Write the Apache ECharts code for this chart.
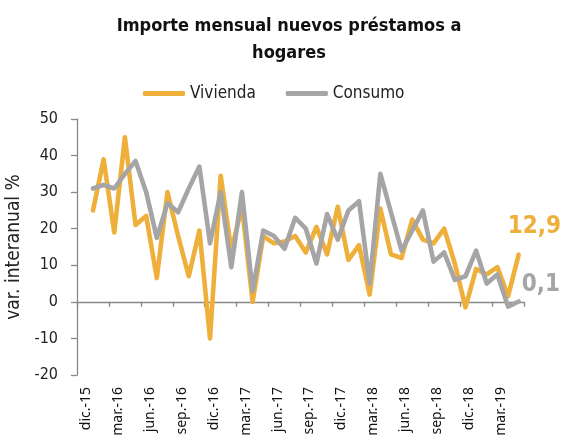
<!DOCTYPE html>
<html>
<head>
<meta charset="utf-8">
<script src="https://cdn.jsdelivr.net/npm/echarts@6/dist/echarts.min.js"></script>
<style>
  html, body { margin: 0; padding: 0; background: #fff; }
  #chart { width: 563px; height: 448px; }
</style>
</head>
<body>
<div id="chart"></div>
<script>
// meses dic-15 .. abr-19
const months = [
  'dic.-15', 'ene.-16', 'feb.-16', 'mar.-16', 'abr.-16', 'may.-16', 'jun.-16', 'jul.-16', 'ago.-16', 'sep.-16', 'oct.-16', 'nov.-16',
  'dic.-16', 'ene.-17', 'feb.-17', 'mar.-17', 'abr.-17', 'may.-17', 'jun.-17', 'jul.-17', 'ago.-17', 'sep.-17', 'oct.-17', 'nov.-17',
  'dic.-17', 'ene.-18', 'feb.-18', 'mar.-18', 'abr.-18', 'may.-18', 'jun.-18', 'jul.-18', 'ago.-18', 'sep.-18', 'oct.-18', 'nov.-18',
  'dic.-18', 'ene.-19', 'feb.-19', 'mar.-19', 'abr.-19'
];
const vivienda = [
  25, 39, 19, 45, 21, 23.5, 6.5, 30, 18, 7, 19.5, -10,
  34.5, 14, 26, 0, 18, 16, 16.5, 18, 13.5, 20.5, 13, 26,
  11.5, 15.5, 2, 25.5, 13, 12, 22.5, 17, 16, 20, 10.5, -1.5,
  9, 7.5, 9.5, 1.5, 12.9
];
const consumo = [
  31, 32, 31, 35, 38.5, 30, 17.5, 27, 24.5, 31, 37, 16,
  30, 9.5, 30, 3, 19.5, 18, 14.5, 23, 20, 10.5, 24, 17,
  25, 27.5, 5, 35, 24.5, 14, 19.5, 25, 11, 13.5, 6, 7,
  14, 5, 7.5, -1.3, 0.1
];
const yTicks = { min: -20, max: 50, step: 10 };

// el eje empieza un mes antes (hueco sin dato)
const cats = [''].concat(months);
const colViv = '#EFAF3B';
const colCon = '#A5A5A5';
const axisCol = '#898989';
const font = "'DejaVu Sans Condensed', 'DejaVu Sans', sans-serif";

const chart = echarts.init(document.getElementById('chart'));
chart.setOption({
  animation: false,
  title: {
    text: 'Importe mensual nuevos préstamos a\nhogares',
    left: 284,
    textAlign: 'center',
    top: 8,
    textStyle: { fontFamily: font, fontWeight: 'bold', fontSize: 18, lineHeight: 27, color: '#111' }
  },
  legend: {
    top: 80,
    left: 138,
    itemWidth: 42,
    itemHeight: 5,
    itemGap: 30,
    icon: 'roundRect',
    textStyle: { fontFamily: font, fontSize: 17, color: '#222' },
    data: ['Vivienda', 'Consumo']
  },
  grid: { left: 77, right: 39, top: 119, bottom: 73, outerBoundsMode: 'none', containLabel: false },
  xAxis: [
    {
      // linea en el cero con marcas cada trimestre
      type: 'category',
      data: cats,
      boundaryGap: true,
      axisLine: { onZero: true, lineStyle: { color: axisCol, width: 1.3 } },
      axisTick: {
        show: true,
        inside: false,
        alignWithLabel: false,
        interval: 2,
        length: 5,
        lineStyle: { color: axisCol, width: 1.3 }
      },
      axisLabel: { show: true, interval: 2, formatter: function () { return ''; } }
    },
    {
      // etiquetas abajo
      type: 'category',
      data: cats,
      position: 'bottom',
      boundaryGap: true,
      axisLine: { show: false, onZero: false },
      axisTick: { show: false },
      axisLabel: {
        interval: function (i) { return i % 3 === 1; },
        rotate: 90,
        margin: 12,
        verticalAlign: 'bottom',
        fontFamily: 'Noto Sans',
        fontSize: 14,
        color: '#111'
      }
    }
  ],
  yAxis: {
    type: 'value',
    min: yTicks.min,
    max: yTicks.max,
    interval: yTicks.step,
    name: 'var. interanual %',
    nameLocation: 'middle',
    nameGap: 52,
    nameTextStyle: { fontFamily: font, fontSize: 19, color: '#222' },
    axisLine: { show: true, lineStyle: { color: axisCol, width: 1.3 } },
    axisTick: { show: true, length: 6, lineStyle: { color: axisCol, width: 1.3 } },
    splitLine: { show: false },
    axisLabel: { fontFamily: font, fontSize: 16, color: '#222', margin: 19 }
  },
  series: [
    {
      name: 'Vivienda',
      type: 'line',
      data: [null].concat(vivienda),
      showSymbol: false,
      color: colViv,
      lineStyle: { width: 4.6, color: colViv, cap: 'round', join: 'round' },
      endLabel: {
        show: true,
        formatter: function (p) { return String(p.value).replace('.', ','); },
        offset: [-19, -28],
        fontFamily: font,
        fontWeight: 'bold',
        fontSize: 24,
        color: colViv
      }
    },
    {
      name: 'Consumo',
      type: 'line',
      data: [null].concat(consumo),
      showSymbol: false,
      color: colCon,
      lineStyle: { width: 4.6, color: colCon, cap: 'round', join: 'round' },
      endLabel: {
        show: true,
        formatter: function (p) { return String(p.value).replace('.', ','); },
        offset: [-5, -17],
        fontFamily: font,
        fontWeight: 'bold',
        fontSize: 24,
        color: colCon
      }
    }
  ]
});
</script>
</body>
</html>
